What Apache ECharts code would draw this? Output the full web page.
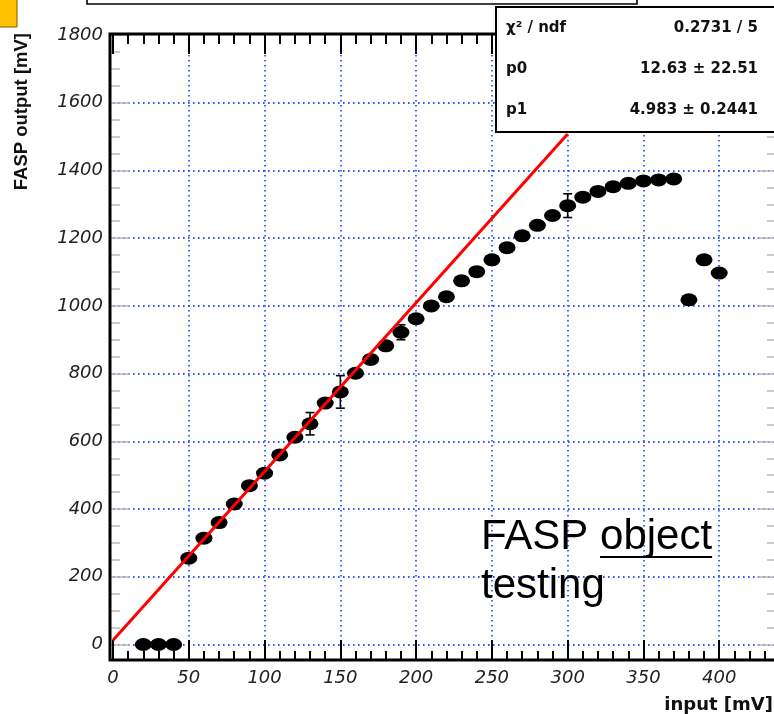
<!DOCTYPE html>
<html>
<head>
<meta charset="utf-8">
<script src="https://cdn.jsdelivr.net/npm/echarts@6/dist/echarts.min.js"></script>
<style>
  html, body { margin: 0; padding: 0; background: #fff; }
  #chart { width: 774px; height: 714px; }
</style>
</head>
<body>
<div id="chart"></div>
<script>
// Measured FASP response: input amplitude vs. output amplitude
const inputMv = [20, 30, 40, 50, 60, 70, 80, 90, 100, 110, 120, 130, 140, 150, 160, 170, 180, 190, 200,
  210, 220, 230, 240, 250, 260, 270, 280, 290, 300, 310, 320, 330, 340, 350, 360, 370, 380, 390, 400];
const outputMv = [0, 0, 0, 255, 314, 360, 415, 469, 506, 560, 612, 652, 713, 746, 801, 842, 882, 922, 962,
  1000, 1027, 1074, 1101, 1136, 1172, 1207, 1238, 1267, 1296, 1321, 1338, 1352, 1362, 1369, 1372, 1375, 1018, 1136, 1097];
const outputErr = [0, 0, 0, 0, 0, 0, 0, 0, 0, 0, 0, 33, 0, 48, 0, 0, 0, 22, 0,
  0, 0, 0, 0, 0, 0, 0, 0, 0, 35, 0, 0, 0, 0, 0, 0, 0, 0, 0, 0];

// Linear fit pol1: y = p0 + p1 * x over the fit range
const fitP0 = 12.63;
const fitP1 = 4.983;
const fitRange = [0, 300];

// Fit statistics box
const statNames = ['\u03C7\u00B2 / ndf', 'p0', 'p1'];
const statValues = ['0.2731 / 5', '12.63 \u00B1 22.51', '4.983 \u00B1 0.2441'];

// Axis tick labels
const xTickLabels = ['0', '50', '100', '150', '200', '250', '300', '350', '400'];
const yTickLabels = ['0', '200', '400', '600', '800', '1000', '1200', '1400', '1600', '1800'];

const xAxisTitle = 'input [mV]';
const yAxisTitle = 'FASP output [mV]';
const noteLine1a = 'FASP ';
const noteLine1b = 'object';
const noteLine2 = 'testing';

// Layout
const G = { left: 113, top: 35, width: 682, height: 609.5 };
const gridBlue = '#2f57ff';
const tickGray = '#b8b8b8';
const labelFont = { fontFamily: 'DejaVu Sans', fontStyle: 'italic', fontSize: 18, color: '#222' };
const dottedGrid = { color: gridBlue, width: 1.8, type: [1.6, 3.4] };

const fitLine = fitRange.map(x => [x, fitP0 + fitP1 * x]);
const points = inputMv.map((x, i) => [x, outputMv[i]]);
const errPoints = inputMv.map((x, i) => [x, outputMv[i], outputErr[i]]);

// text width helper for placing the underline
const mctx = document.createElement('canvas').getContext('2d');
const noteFont = '42px "Liberation Sans"';
mctx.font = noteFont;
const noteX = 481;
const underlineX1 = noteX + mctx.measureText(noteLine1a).width;
const underlineX2 = underlineX1 + mctx.measureText(noteLine1b).width;

const chart = echarts.init(document.getElementById('chart'), null, { renderer: 'canvas' });

const statGraphics = [];
statNames.forEach((name, i) => {
  const y = 28 + i * 41;
  statGraphics.push({ type: 'text', z: 41, x: 506, y: y,
    style: { text: name, font: 'bold 15px "DejaVu Sans"', fill: '#111', textAlign: 'left', textVerticalAlign: 'middle' } });
  statGraphics.push({ type: 'text', z: 41, x: 758, y: y,
    style: { text: statValues[i], font: 'bold 15px "DejaVu Sans"', fill: '#111', textAlign: 'right', textVerticalAlign: 'middle' } });
});

// frame axes: no axis line (the frame is drawn separately), ticks pointing inward
const frameAxis = (color, major, minor, splits) => ({
  axisLine: { show: false, onZero: false },
  axisTick: { show: true, inside: true, length: major, lineStyle: { color: color, width: color === '#000' ? 2 : 1.5 } },
  minorTick: { show: true, splitNumber: splits, length: minor, lineStyle: { color: color, width: color === '#000' ? 2 : 1.5 } }
});

chart.setOption({
  animation: false,
  backgroundColor: '#fff',
  grid: { left: G.left, top: G.top, width: G.width, height: G.height, containLabel: false, outerBoundsMode: 'none' },
  xAxis: [
    Object.assign({
      type: 'value', position: 'bottom', min: 0, max: 450, interval: 50, offset: 15.5,
      axisLabel: Object.assign({ margin: 9, showMaxLabel: false,
        formatter: v => xTickLabels.includes(String(v)) ? String(v) : '' }, labelFont),
      splitLine: { show: true, showMinLine: false, showMaxLine: false, lineStyle: dottedGrid }
    }, frameAxis('#000', 20, 9, 5)),
    Object.assign({
      type: 'value', position: 'top', min: 0, max: 450, interval: 50, offset: 1,
      axisLabel: { show: false },
      splitLine: { show: false }
    }, frameAxis('#000', 20, 10, 5))
  ],
  yAxis: [
    Object.assign({
      type: 'value', position: 'left', min: 0, max: 1800, interval: 200, offset: 3,
      axisLabel: Object.assign({ margin: 7,
        formatter: v => yTickLabels.includes(String(v)) ? String(v) : '' }, labelFont),
      splitLine: { show: true, showMinLine: true, showMaxLine: false, lineStyle: dottedGrid }
    }, frameAxis(tickGray, 20, 10, 4)),
    Object.assign({
      type: 'value', position: 'right', min: 0, max: 1800, interval: 200, offset: -18,
      axisLabel: { show: false },
      splitLine: { show: false }
    }, frameAxis(tickGray, 20, 10, 4))
  ],
  series: [
    {
      // error bars
      type: 'custom', xAxisIndex: 0, yAxisIndex: 0, z: 3,
      data: errPoints,
      encode: { x: 0, y: 1 },
      renderItem: function (params, api) {
        const x = api.value(0), y = api.value(1), e = api.value(2);
        if (!e) return null;
        const hi = api.coord([x, y + e]);
        const lo = api.coord([x, y - e]);
        const cap = 4.5;
        const st = { stroke: '#000', lineWidth: 1.6 };
        return { type: 'group', children: [
          { type: 'line', shape: { x1: hi[0], y1: hi[1], x2: lo[0], y2: lo[1] }, style: st },
          { type: 'line', shape: { x1: hi[0] - cap, y1: hi[1], x2: hi[0] + cap, y2: hi[1] }, style: st },
          { type: 'line', shape: { x1: lo[0] - cap, y1: lo[1], x2: lo[0] + cap, y2: lo[1] }, style: st }
        ] };
      }
    },
    {
      type: 'scatter', xAxisIndex: 0, yAxisIndex: 0, z: 4,
      data: points,
      symbol: 'circle', symbolSize: [17, 13],
      itemStyle: { color: '#000', opacity: 1 }
    },
    {
      type: 'line', xAxisIndex: 0, yAxisIndex: 0, z: 5,
      data: fitLine,
      showSymbol: false, symbol: 'none',
      lineStyle: { color: '#ff0000', width: 3 }
    },
    {
      // binds the top and right frame axes
      type: 'line', xAxisIndex: 1, yAxisIndex: 1, data: [], silent: true
    }
  ],
  graphic: [
    // plot frame
    { type: 'rect', z: 10, silent: true,
      shape: { x: 110, y: 34, width: 680, height: 626 },
      style: { fill: 'none', stroke: '#000', lineWidth: 3 } },
    // title box (upper edge runs off the page)
    { type: 'rect', z: 40, silent: true,
      shape: { x: 87, y: -20, width: 550, height: 24 },
      style: { fill: '#fff', stroke: '#000', lineWidth: 1.6 } },
    // stats box
    { type: 'rect', z: 40, silent: true,
      shape: { x: 496, y: 7, width: 300, height: 125 },
      style: { fill: '#fff', stroke: '#000', lineWidth: 2 } },
    ...statGraphics,
    // corner tag
    { type: 'rect', z: 40, silent: true,
      shape: { x: -1, y: -1, width: 18, height: 28 },
      style: { fill: '#ffc000', stroke: '#7a5a00', lineWidth: 1 } },
    // axis titles
    { type: 'text', z: 40, x: 22, y: 33, rotation: Math.PI / 2,
      style: { text: yAxisTitle, font: 'bold 18.5px "Liberation Sans"', fill: '#111', textAlign: 'right', textVerticalAlign: 'middle' } },
    { type: 'text', z: 40, x: 773, y: 705,
      style: { text: xAxisTitle, font: 'bold 18px "DejaVu Sans"', fill: '#111', textAlign: 'right', textVerticalAlign: 'middle' } },
    // note
    { type: 'text', z: 50, x: noteX, y: 537,
      style: { text: noteLine1a + noteLine1b, font: noteFont, fill: '#000', textAlign: 'left', textVerticalAlign: 'middle' } },
    { type: 'line', z: 50, silent: true,
      shape: { x1: underlineX1, y1: 557, x2: underlineX2, y2: 557 },
      style: { stroke: '#000', lineWidth: 2 } },
    { type: 'text', z: 50, x: noteX, y: 586,
      style: { text: noteLine2, font: noteFont, fill: '#000', textAlign: 'left', textVerticalAlign: 'middle' } }
  ]
});
</script>
</body>
</html>
